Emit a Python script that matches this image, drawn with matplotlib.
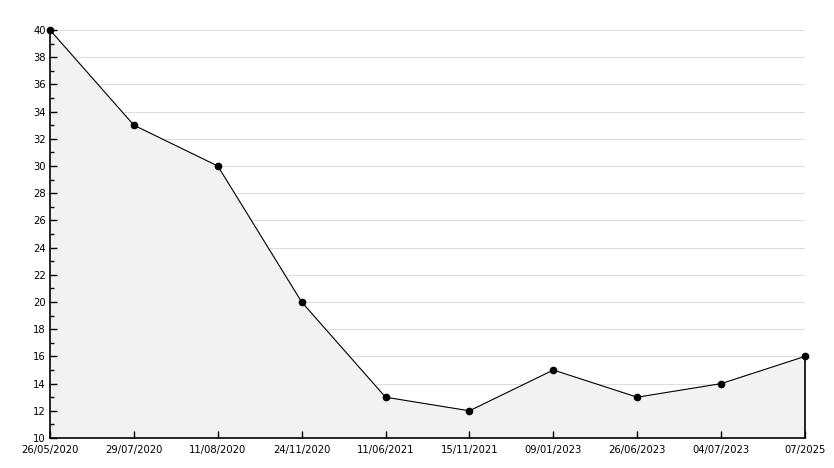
import matplotlib
matplotlib.use("Agg")
import matplotlib.pyplot as plt
import numpy as np

dates = ["26/05/2020", "29/07/2020", "11/08/2020", "24/11/2020", "11/06/2021",
         "15/11/2021", "09/01/2023", "26/06/2023", "04/07/2023", "07/2025"]
values = [40, 33, 30, 20, 13, 12, 15, 13, 14, 16]

fig = plt.figure(figsize=(8.34, 4.68), dpi=100)
ax = fig.add_axes([50 / 834, 30 / 468, 755 / 834, 408 / 468])

x = np.arange(len(dates))
ax.fill_between(x, values, 10, color="#f2f2f2", zorder=1)
ax.plot(x, values, color="black", linewidth=0.8, marker="o", markersize=4.5,
        zorder=4, clip_on=False)
ax.vlines(x[-1], 10, values[-1], color="black", linewidth=1.2, zorder=3, clip_on=False)

ax.set_xlim(0, len(dates) - 1)
ax.set_ylim(10, 40)
ax.set_yticks(np.arange(10, 41, 2))
ax.set_yticks(np.arange(11, 40, 2), minor=True)
ax.set_xticks(x)
ax.set_xticklabels(dates)

for yv in np.arange(12, 41, 2):
    ax.axhline(yv, color="#dddddd", linewidth=0.8, zorder=0)

for s in ["top", "right"]:
    ax.spines[s].set_visible(False)
for s in ["left", "bottom"]:
    ax.spines[s].set_linewidth(1.2)
    ax.spines[s].set_zorder(5)

ax.tick_params(axis="both", which="major", direction="in", length=5, width=1, labelsize=7.2, pad=3)
ax.tick_params(axis="y", which="minor", direction="in", length=3, width=1)
ax.tick_params(axis="x", pad=5)

fig.savefig("out.png", dpi=100, facecolor="white")
